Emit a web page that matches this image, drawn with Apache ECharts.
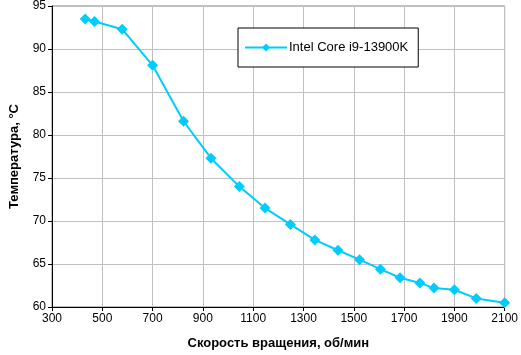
<!DOCTYPE html>
<html><head><meta charset="utf-8">
<script src="https://cdn.jsdelivr.net/npm/echarts@6/dist/echarts.min.js"></script>
<style>html,body{margin:0;padding:0;background:#fff}#c{width:521px;height:355px}</style>
</head><body><div id="c"></div>
<script>
const seriesName = 'Intel Core i9-13900K';
const rpm = [432, 469, 579, 700, 823, 932, 1045, 1147, 1248, 1345, 1437, 1523, 1606, 1684, 1763, 1819, 1900, 1987, 2100];
const temp = [93.5, 93.2, 92.3, 88.1, 81.6, 77.3, 74.0, 71.5, 69.6, 67.8, 66.6, 65.5, 64.4, 63.4, 62.8, 62.2, 62.0, 61.0, 60.5];
const xName = 'Скорость вращения, об/мин';
const yName = 'Температура, °С';

const chart = echarts.init(document.getElementById('c'), null, {renderer: 'canvas'});
const font = 'Liberation Sans, Arial, sans-serif';
chart.setOption({
  animation: false,
  backgroundColor: '#fff',
  grid: {left: 46, right: 13, top: 5, bottom: 44, show: true, borderColor: '#808080', borderWidth: 1},
  legend: {
    left: 238, top: 28, orient: 'horizontal',
    data: [seriesName],
    borderColor: '#000', borderWidth: 1, borderRadius: 0,
    backgroundColor: '#fff',
    padding: [13, 10, 13, 6],
    itemWidth: 42, itemHeight: 10, itemGap: 0,
    textStyle: {fontFamily: font, fontSize: 13, color: '#000', padding: [0, 0, 0, -3]}
  },
  xAxis: {
    type: 'value', min: 300, max: 2100, interval: 200,
    name: xName, nameLocation: 'middle', nameGap: 30,
    nameTextStyle: {fontFamily: font, fontSize: 13, fontWeight: 'bold', color: '#000'},
    axisLine: {show: true, lineStyle: {color: '#000', width: 1}},
    axisTick: {show: true, inside: false, length: 4, lineStyle: {color: '#000'}},
    axisLabel: {fontFamily: font, fontSize: 12, color: '#000', margin: 6, formatter: v => String(v)},
    splitLine: {show: true, lineStyle: {color: '#c0c0c0', width: 1}}
  },
  yAxis: {
    type: 'value', min: 60, max: 95, interval: 5,
    name: yName, nameLocation: 'middle', nameGap: 31,
    nameTextStyle: {fontFamily: font, fontSize: 13, fontWeight: 'bold', color: '#000'},
    axisLine: {show: true, lineStyle: {color: '#000', width: 1}},
    axisTick: {show: true, inside: false, length: 4, lineStyle: {color: '#000'}},
    axisLabel: {fontFamily: font, fontSize: 12, color: '#000', margin: 6, formatter: v => String(v)},
    splitLine: {show: true, lineStyle: {color: '#c0c0c0', width: 1}}
  },
  series: [{
    name: seriesName, type: 'line',
    data: rpm.map((x, i) => [x, temp[i]]),
    symbol: 'diamond', symbolSize: 11,
    lineStyle: {color: '#00ccff', width: 2},
    itemStyle: {color: '#00ccff'},
    clip: false
  }]
});
</script></body></html>
